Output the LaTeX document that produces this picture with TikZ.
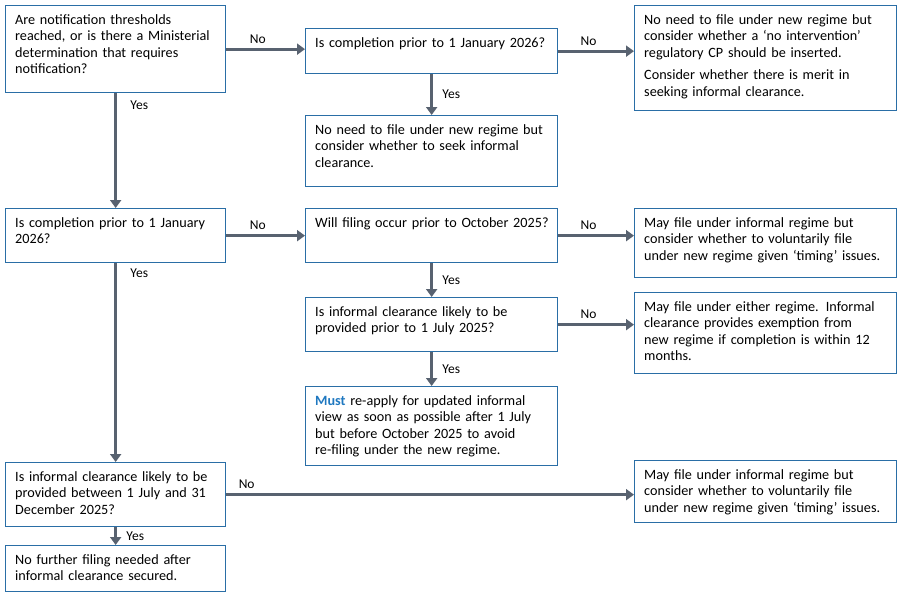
\documentclass[tikz,border=0pt]{standalone}
\usepackage{fontspec}
\setmainfont{Carlito}
\usetikzlibrary{arrows.meta}
\definecolor{bx}{HTML}{2A6EA6}
\definecolor{ar}{HTML}{586270}
\definecolor{mu}{HTML}{1F78C0}
\hyphenpenalty=10000
\exhyphenpenalty=10000
\tikzset{
 box/.style={draw=bx,line width=1.3pt,anchor=north west,inner sep=0pt},
 txt/.style={anchor=north west,align=left,inner sep=0pt,font=\fontsize{14.2}{16.5}\selectfont},
 arr/.style={draw=ar,line width=3pt,-{Triangle[length=8pt,width=11pt]}},
 lab/.style={font=\fontsize{13.5}{16}\selectfont,text=black}
}
\newcommand{\bx}[6]{\node[box,minimum width=#4,minimum height=#5] (#1) at (#2,#3) {};
 \node[txt,text width=#4-18] (#1t) at ([shift={(10pt,-9pt)}]#1.north west) {\hyphenpenalty=10000 #6};}
\begin{document}
\begin{tikzpicture}[x=1pt,y=-1pt]
\useasboundingbox (0,0) rectangle (900,600);
\bx{A}{5}{5}{220pt}{87pt}{Are notification thresholds reached, or is there a Ministerial determination that requires notification?}
\bx{B}{305}{28}{252pt}{45pt}{Is completion prior to 1 January 2026?}
\bx{C}{634}{5}{262pt}{105pt}{No need to file under new regime but consider whether a ‘no intervention’ regulatory CP should be inserted.\\[6pt]Consider whether there is merit in seeking informal clearance.}
\bx{D}{305}{115}{252pt}{71pt}{No need to file under new regime but consider whether to seek informal clearance.}
\bx{E}{5}{208}{220pt}{54pt}{Is completion prior to 1 January 2026?}
\bx{F}{305}{208}{252pt}{54pt}{Will filing occur prior to October 2025?}
\bx{G}{634}{208}{262pt}{69pt}{May file under informal regime but consider whether to voluntarily file under new regime given ‘timing’ issues.}
\bx{H}{305}{297}{252pt}{54pt}{Is informal clearance likely to be provided prior to 1 July 2025?}
\bx{I}{634}{292}{262pt}{81pt}{May file under either regime. Informal clearance provides exemption from new regime if completion is within 12 months.}
\bx{J}{305}{386}{252pt}{79pt}{\textbf{\color{mu}Must} re-apply for updated informal view as soon as possible after 1 July but before October 2025 to avoid re-filing under the new regime.}
\bx{K}{5}{462}{220pt}{64pt}{Is informal clearance likely to be provided between 1 July and 31 December 2025?}
\bx{L}{634}{460}{262pt}{62pt}{May file under informal regime but consider whether to voluntarily file under new regime given ‘timing’ issues.}
\bx{M}{5}{545}{220pt}{46pt}{No further filing needed after informal clearance secured.}
\draw[arr] (A.east) -- (A.east -| B.west) node[lab,pos=0.4,above=1pt]{No};
\draw[arr] (B.east) -- (B.east -| C.west) node[lab,pos=0.4,above=1pt]{No};
\draw[arr] (B.south) -- (D.north) node[lab,midway,right=6pt]{Yes};
\draw[arr] (A.south) -- (E.north) node[lab,pos=0.1,right=10pt]{Yes};
\draw[arr] (E.east) -- (F.west) node[lab,pos=0.4,above=1pt]{No};
\draw[arr] (F.east) -- (F.east -| G.west) node[lab,pos=0.4,above=1pt]{No};
\draw[arr] (F.south) -- (H.north) node[lab,midway,right=6pt]{Yes};
\draw[arr] (H.east) -- (H.east -| I.west) node[lab,pos=0.4,above=1pt]{No};
\draw[arr] (H.south) -- (J.north) node[lab,midway,right=6pt]{Yes};
\draw[arr] (E.south) -- (K.north) node[lab,pos=0.05,right=10pt]{Yes};
\draw[arr] (K.east) -- (K.east -| L.west) node[lab,pos=0.05,above=1pt]{No};
\draw[arr] (K.south) -- (M.north) node[lab,midway,right=6pt]{Yes};
\end{tikzpicture}
\end{document}
